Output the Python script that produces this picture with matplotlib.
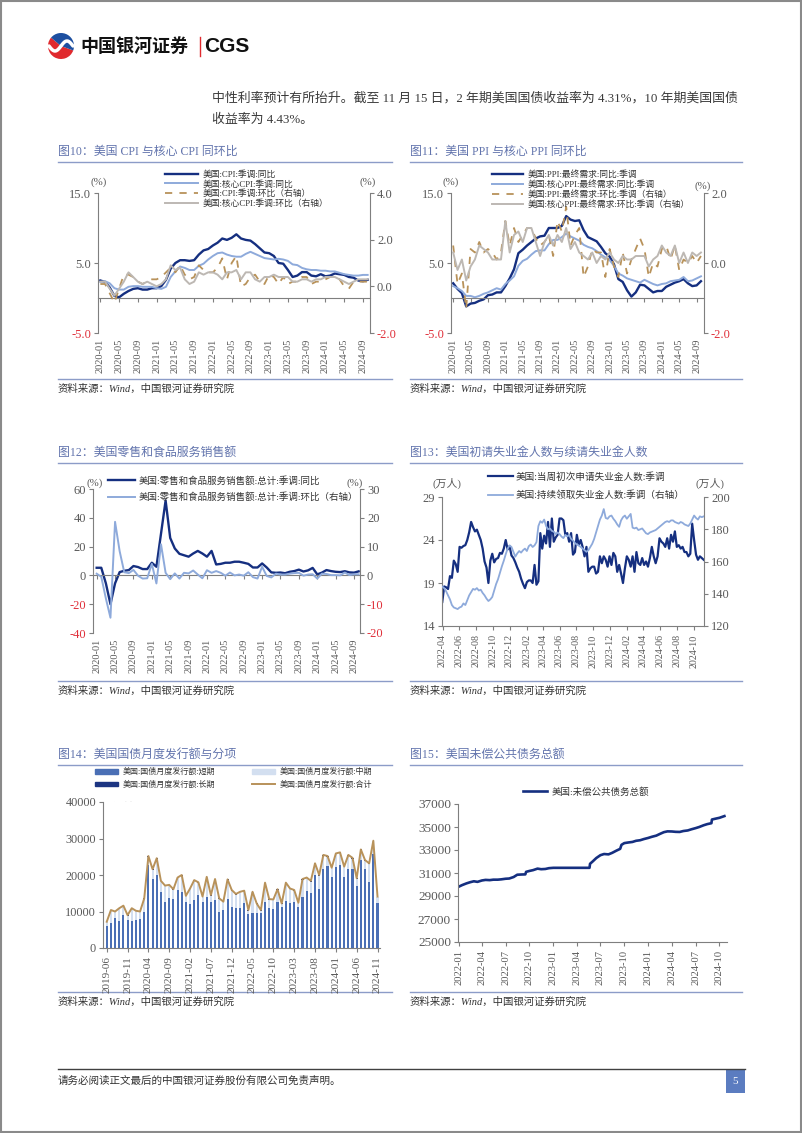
import numpy as np
import pandas as pd
import matplotlib
matplotlib.use('Agg')
import matplotlib.pyplot as plt
import matplotlib.dates as mdates
from matplotlib.patches import Patch, Rectangle, Wedge

plt.rcParams['font.family'] = ['Liberation Serif', 'Noto Sans CJK SC']
plt.rcParams['axes.unicode_minus'] = False

# ---------------- data ----------------
# 图10 CPI (2020-01 .. 2024-10)
cpi_yoy = [2.5, 2.3, 1.5, 0.3, 0.1, 0.6, 1.0, 1.3, 1.4, 1.2, 1.2, 1.4,
           1.4, 1.7, 2.6, 4.2, 5.0, 5.4, 5.4, 5.3, 5.4, 6.2, 6.8, 7.0,
           7.5, 7.9, 8.5, 8.3, 8.6, 9.1, 8.5, 8.3, 8.2, 7.7, 7.1, 6.5,
           6.4, 6.0, 5.0, 4.9, 4.0, 3.0, 3.2, 3.7, 3.7, 3.2, 3.1, 3.4,
           3.1, 3.2, 3.5, 3.4, 3.3, 3.0, 2.9, 2.5, 2.4, 2.6]
core_cpi_yoy = [2.3, 2.4, 2.1, 1.4, 1.2, 1.2, 1.6, 1.7, 1.7, 1.6, 1.6, 1.6,
                1.4, 1.3, 1.6, 3.0, 3.8, 4.5, 4.3, 4.0, 4.0, 4.6, 4.9, 5.5,
                6.0, 6.4, 6.5, 6.2, 6.0, 5.9, 5.9, 6.3, 6.6, 6.3, 6.0, 5.7,
                5.6, 5.5, 5.6, 5.5, 5.3, 4.8, 4.7, 4.3, 4.1, 4.0, 4.0, 3.9,
                3.9, 3.8, 3.8, 3.6, 3.4, 3.3, 3.2, 3.2, 3.3, 3.3]
cpi_mom = [0.1, 0.1, -0.3, -0.7, -0.1, 0.5, 0.5, 0.4, 0.2, 0.1, 0.2, 0.3,
           0.3, 0.4, 0.6, 0.8, 0.6, 0.9, 0.5, 0.3, 0.4, 0.9, 0.7, 0.6,
           0.6, 0.8, 1.2, 0.3, 1.0, 1.3, 0.0, 0.1, 0.4, 0.5, 0.2, 0.1,
           0.5, 0.4, 0.1, 0.4, 0.1, 0.2, 0.2, 0.4, 0.4, 0.1, 0.2, 0.2,
           0.3, 0.4, 0.4, 0.3, 0.0, -0.1, 0.2, 0.2, 0.2, 0.2]
core_cpi_mom = [0.2, 0.2, -0.1, -0.4, -0.1, 0.2, 0.6, 0.4, 0.2, 0.1, 0.2, 0.1,
                0.0, 0.1, 0.3, 0.9, 0.7, 0.8, 0.3, 0.1, 0.2, 0.6, 0.5, 0.6,
                0.6, 0.5, 0.3, 0.6, 0.6, 0.7, 0.3, 0.6, 0.6, 0.3, 0.2, 0.4,
                0.4, 0.5, 0.4, 0.4, 0.4, 0.2, 0.2, 0.3, 0.3, 0.2, 0.3, 0.3,
                0.4, 0.4, 0.4, 0.3, 0.2, 0.1, 0.2, 0.3, 0.3, 0.3]

# 图11 PPI (2020-01 .. 2024-10)
ppi_yoy = [2.1, 1.3, 0.7, -1.2, -0.8, -0.7, -0.4, -0.2, 0.4, 0.5, 0.8, 0.8,
           1.7, 2.8, 4.1, 6.4, 6.9, 7.5, 8.0, 8.5, 8.8, 8.9, 10.0, 10.0,
           10.0, 10.3, 11.7, 11.2, 11.0, 11.1, 9.7, 8.7, 8.4, 8.1, 7.3, 6.4,
           5.9, 4.8, 2.7, 2.3, 1.1, 0.2, 0.8, 1.9, 1.8, 1.3, 0.8, 1.0,
           1.0, 1.6, 1.9, 2.2, 2.4, 2.7, 2.1, 1.7, 1.8, 2.4]
core_ppi_yoy = [1.7, 1.4, 1.0, 0.3, 0.3, 0.1, 0.3, 0.6, 0.8, 1.1, 1.4, 1.2,
                2.0, 2.5, 3.1, 4.6, 5.3, 5.6, 6.2, 6.7, 6.8, 6.8, 7.7, 8.3,
                8.3, 8.7, 9.2, 8.8, 8.5, 8.2, 7.6, 7.3, 7.1, 6.7, 6.2, 5.8,
                5.4, 4.6, 3.5, 3.2, 2.8, 2.6, 2.4, 2.2, 2.6, 2.3, 2.0, 1.8,
                2.0, 2.1, 2.4, 2.5, 2.6, 3.0, 2.4, 2.5, 2.8, 3.1]
ppi_mom = [0.5, -0.6, -0.3, -1.3, 0.4, 0.3, 0.6, 0.3, 0.4, 0.3, 0.1, 0.3,
           1.2, 0.5, 1.0, 0.6, 0.8, 1.0, 1.0, 0.7, 0.5, 0.6, 0.8, 0.2,
           1.2, 0.9, 1.6, 0.5, 0.8, 1.0, -0.4, -0.1, 0.4, 0.3, 0.3, -0.4,
           0.4, -0.1, -0.4, 0.3, -0.3, 0.1, 0.4, 0.7, 0.4, -0.4, 0.0, -0.1,
           0.4, 0.5, 0.1, 0.5, -0.2, 0.1, 0.0, 0.2, 0.0, 0.2]
core_ppi_mom = [0.3, -0.2, 0.1, -0.5, -0.1, 0.1, 0.5, 0.4, 0.3, 0.1, 0.1, 0.1,
                1.2, 0.3, 0.8, 0.9, 0.6, 1.0, 1.0, 0.6, 0.2, 0.6, 0.8, 0.5,
                0.8, 0.6, 1.0, 0.4, 0.6, 0.3, 0.2, 0.1, 0.3, 0.0, 0.2, 0.1,
                0.3, 0.1, 0.0, 0.2, 0.1, 0.1, 0.2, 0.2, 0.2, -0.1, 0.1, 0.2,
                0.5, 0.3, 0.2, 0.5, 0.0, 0.3, 0.0, 0.3, 0.2, 0.3]

# 图12 零售 (2020-01 .. 2024-10)
retail_yoy = [5.3, 5.3, -5.5, -20.0, -5.5, 2.3, 3.2, 3.7, 6.5, 5.8, 4.4, 4.4,
              8.8, 6.0, 29.0, 52.0, 26.0, 18.7, 15.0, 14.0, 13.0, 15.2, 17.0, 15.2,
              13.0, 17.0, 7.6, 8.0, 8.8, 8.8, 9.5, 9.5, 8.8, 8.0, 5.5, 5.5,
              8.3, 5.5, 2.1, 1.8, 2.0, 1.5, 2.5, 3.0, 4.0, 2.7, 3.5, 5.2,
              0.7, 1.9, 3.7, 3.0, 2.5, 2.3, 2.9, 2.1, 1.9, 2.8]
retail_mom = [0.6, -0.5, -8.0, -14.7, 18.6, 8.4, 1.1, 0.8, 1.9, -0.1, -1.1, -1.0,
              4.0, -2.8, 10.8, 0.9, -1.3, 0.7, -1.1, 0.9, 0.7, 1.7, 0.3, -1.0,
              1.8, 0.9, 1.5, 0.9, -0.1, 1.0, 0.0, 0.3, -0.1, 1.1, -0.6, -1.1,
              3.0, -0.2, -0.7, 0.6, 0.3, 0.3, 0.6, 0.8, 0.9, -0.1, 0.3, 0.4,
              -1.1, 0.6, 0.5, 0.1, 0.1, 0.0, 1.0, 0.1, 0.4, 0.4]

# 图13 初请/续请 (weekly, 万人)
initial_claims = [16.8, 18.6, 18.5, 18.3, 19.8, 19.6, 21.6, 21.2, 20.3, 23.2,
                  23.1, 23.3, 23.4, 24.0, 24.9, 26.1, 25.5, 25.0, 25.2, 24.6,
                  24.0, 23.0, 21.5, 20.8, 19.0, 21.6, 22.4, 21.4, 21.8, 21.9,
                  22.5, 22.4, 23.0, 24.0, 22.9, 23.3, 22.2, 21.9, 21.4, 20.8,
                  20.3, 19.5, 18.9, 18.4, 19.1, 19.3, 19.3, 19.0, 21.1, 18.8,
                  19.2, 24.8, 23.0, 24.5, 23.6, 26.1, 23.2, 26.5, 23.8, 24.3,
                  24.6, 26.5, 26.5, 26.3, 24.6, 24.8, 23.8, 24.8, 22.3, 22.6,
                  24.6, 23.4, 24.0, 23.2, 22.1, 23.2, 20.3, 20.7, 20.9, 20.9,
                  20.1, 20.3, 22.1, 21.3, 22.1, 21.7, 20.9, 22.1, 21.1, 22.5,
                  22.1, 20.3, 21.1, 20.1, 19.0, 20.7, 22.1, 21.7, 20.9, 22.1,
                  20.3, 22.6, 21.3, 21.1, 21.9, 21.1, 21.5, 20.9, 21.9, 23.2,
                  22.1, 21.3, 22.1, 24.2, 23.8, 23.6, 23.2, 24.2, 23.0, 24.6,
                  23.8, 25.0, 23.2, 23.4, 23.0, 23.2, 22.6, 22.6, 22.1, 22.4,
                  25.9, 24.0, 22.3, 21.7, 22.1, 21.9, 21.7]
continuing_claims = [144.4, 143.5, 141.5, 139.0, 136.5, 133.0, 131.5, 131.0, 130.5, 131.5,
                     132.0, 134.0, 133.0, 136.0, 139.0, 141.0, 143.0, 142.5, 143.5, 142.0,
                     142.5, 140.5, 139.0, 137.0, 135.5, 136.5, 138.0, 142.0, 146.0, 149.0,
                     153.0, 157.0, 160.5, 164.5, 168.0, 170.0, 169.0, 166.0, 163.0, 165.0,
                     166.5, 165.5, 167.0, 168.0, 166.5, 169.5, 170.5, 169.0, 170.0, 172.0,
                     182.0, 185.0, 184.0, 186.0, 182.0, 180.0, 180.5, 179.0, 178.5, 177.0,
                     178.0, 177.0, 175.5, 174.5, 176.5, 175.5, 176.5, 174.0, 173.0, 171.5,
                     170.5, 170.0, 169.0, 168.0, 167.0, 166.0, 167.0, 169.0, 171.0, 174.0,
                     178.0, 182.0, 186.0, 188.5, 192.5, 187.0, 186.5, 188.0, 188.5, 186.5,
                     185.0, 183.0, 181.5, 185.5, 187.5, 188.5, 186.5, 188.0, 189.5, 181.0,
                     180.5, 181.0, 179.5, 180.0, 180.5, 179.0, 177.5, 177.0, 178.0, 178.5,
                     179.0, 179.5, 180.5, 181.5, 182.5, 183.5, 184.5, 185.0, 184.5, 185.5,
                     185.5, 184.5, 184.0, 183.5, 184.5, 184.0, 183.0, 182.5, 182.0, 183.5,
                     186.0, 188.5, 187.0, 186.0, 188.0, 187.5, 188.0]

# 图14 国债月度发行 (2019-06 .. 2024-11, 亿美元)
issue_short = [6100, 6800, 8100, 7400, 9000, 7700, 7400, 7700, 7900, 9800,
               22700, 18900, 20000, 15400, 12700, 13800, 13400, 15900, 15400, 12700,
               12000, 13100, 14500, 12700, 14000, 12500, 13200, 10000, 10400, 13500,
               11300, 10900, 10900, 12200, 9200, 9500, 9500, 9500, 12500, 10900,
               10700, 12700, 11100, 12900, 12200, 12700, 11100, 14100, 15600, 15000,
               20000, 16200, 21600, 22600, 19500, 22100, 22700, 19500, 21600, 21600,
               17100, 24100, 21600, 18000, 25700, 12200]
issue_mid = [950, 3450, 1750, 3350, 2450, 1150, 3350, 2350, 1950, 3650,
             2350, 2550, 4450, 2850, 4250, 3350, 2550, 3250, 4450, 1450,
             4150, 5350, 3350, 1250, 5350, 1850, 5550, 3450, 2150, 5150,
             4450, 3750, 4350, 3350, 1050, 5750, 2550, 750, 5250, 2350,
             2450, 3250, 950, 4850, 3950, 3050, 1150, 4650, 3550, 3200,
             3000, 3600, 3700, 2400, 2300, 3600, 3300, 2600, 3700, 2900,
             1800, 2700, 2300, 5000, 3500, 1700]
issue_long = [150, 150, 150, 150, 150, 150, 150, 150, 150, 150,
              150, 150, 150, 150, 150, 150, 150, 150, 150, 150,
              150, 150, 150, 150, 150, 150, 150, 150, 150, 150,
              150, 150, 150, 150, 150, 150, 150, 150, 150, 150,
              150, 150, 150, 150, 150, 150, 150, 150, 150, 200,
              200, 200, 200, 200, 200, 200, 200, 200, 200, 200,
              200, 200, 200, 200, 200, 200]
issue_total = [7200, 10400, 10000, 10900, 11600, 9000, 10900, 10200, 10000, 13600,
               25200, 21600, 24600, 18400, 17100, 17300, 16100, 19300, 20000, 14300,
               16300, 18600, 18000, 14100, 19500, 14500, 18900, 13600, 12700, 18800,
               15900, 14800, 15400, 15700, 10400, 15400, 12200, 10400, 17900, 13400,
               13300, 16100, 12200, 17900, 16300, 15900, 12400, 18900, 19300, 18400,
               23200, 20000, 25500, 25200, 22000, 25900, 26200, 22300, 25500, 24700,
               19100, 27000, 24100, 23200, 29400, 14100]

# 图15 未偿公共债务总额 (十亿美元)
debt_dates = ['2022-01-01', '2022-01-15', '2022-02-01', '2022-02-15', '2022-03-01',
              '2022-03-15', '2022-04-01', '2022-04-15', '2022-05-01', '2022-05-15',
              '2022-06-01', '2022-06-15', '2022-07-01', '2022-07-15', '2022-08-01',
              '2022-08-15', '2022-09-01', '2022-09-15', '2022-09-18', '2022-10-01',
              '2022-10-15', '2022-11-01', '2022-11-15', '2022-12-01', '2022-12-15',
              '2023-01-01', '2023-05-20', '2023-05-22', '2023-06-01', '2023-06-15',
              '2023-07-01', '2023-07-15', '2023-08-01', '2023-08-15', '2023-09-01',
              '2023-09-15', '2023-09-20', '2023-10-01', '2023-10-15', '2023-11-01',
              '2023-11-15', '2023-12-01', '2023-12-15', '2024-01-01', '2024-01-15',
              '2024-02-01', '2024-02-15', '2024-03-01', '2024-03-15', '2024-04-01',
              '2024-04-15', '2024-05-01', '2024-05-15', '2024-06-01', '2024-06-15',
              '2024-07-01', '2024-07-15', '2024-08-01', '2024-08-15', '2024-08-31',
              '2024-09-02', '2024-09-15', '2024-10-01', '2024-10-20']
debt_total = [29800, 29950, 30100, 30200, 30280, 30230, 30350, 30400, 30380, 30420,
              30420, 30450, 30500, 30520, 30650, 30850, 30870, 30880, 31100, 31180,
              31250, 31380, 31330, 31350, 31420, 31450, 31450, 31800, 32000, 32300,
              32550, 32650, 32620, 32750, 32950, 33100, 33450, 33600, 33650, 33700,
              33800, 33850, 33950, 34050, 34150, 34250, 34400, 34550, 34620, 34610,
              34580, 34570, 34650, 34700, 34800, 34900, 35000, 35150, 35250, 35330,
              35650, 35720, 35800, 35950]

# ---------------- style ----------------
NAVY = '#152f80'
LBLUE = '#8eaadb'
TAN = '#b8925a'
GRAY = '#bdb8b3'
SHORT_C = '#4a6fb5'
MID_C = '#d3dff0'
LONG_C = '#1c3582'
SPINE_C = '#7f7f7f'
TICK_C = '#595959'
RED = '#e0303a'
TITLE_C = '#6274ad'
RULE_C = '#8c9cc8'
TXT_C = '#333333'

W, H = 802, 1133
fig = plt.figure(figsize=(W / 100, H / 100), dpi=100)


def box(l, t, r, b):
    return [l / W, 1 - b / H, (r - l) / W, (b - t) / H]


pg = fig.add_axes([0, 0, 1, 1], zorder=-1)
pg.set_xlim(0, W)
pg.set_ylim(H, 0)
pg.axis('off')

# page frame, header, footer
pg.add_patch(Rectangle((0.8, 0.8), W - 1.6, H - 1.6, fill=False, ec='#8a8a8a', lw=1.5))
pg.add_patch(Wedge((61, 46), 13, 20, 220, fc='#e02a2e', ec='none'))
pg.add_patch(Wedge((61, 46), 13, 220, 20, fc='#1d4fa0', ec='none'))
tt = np.linspace(-1, 1, 30)
pg.plot(61 + 12 * tt, 46 - 5 * np.sin(np.pi * tt), color='white', lw=2.5, solid_capstyle='round')
pg.text(80, 46, '中国银河证券', fontsize=13, fontweight='bold', family='Noto Sans CJK SC',
        va='center', color='#111111')
pg.plot([199.5, 199.5], [37, 56], color='#e02a2e', lw=1)
pg.text(204, 46.5, 'CGS', fontsize=15, fontweight='bold', family='Liberation Sans',
        va='center', color='#111111')
pg.text(212, 98, '中性利率预计有所抬升。截至 11 月 15 日，2 年期美国国债收益率为 4.31%，10 年期美国国债',
        fontsize=9.3, color='#3a3a3a', va='center')
pg.text(212, 120, '收益率为 4.43%。', fontsize=9.3, color='#3a3a3a', va='center')

pg.plot([58, 745], [1069, 1069], color='#404040', lw=1)
pg.text(58, 1081, '请务必阅读正文最后的中国银河证券股份有限公司免责声明。', fontsize=7.6,
        color=TXT_C, va='center')
pg.add_patch(Rectangle((726, 1069), 19, 24, fc='#5b7cc0', ec='none'))
pg.text(735.5, 1081, '5', fontsize=8, color='white', ha='center', va='center')


def panel(x0, x1, y_title, y_rule, y_src, title):
    pg.text(x0, y_title, title, fontsize=8.6, color=TITLE_C, va='center')
    pg.plot([x0, x1], [y_rule, y_rule], color=RULE_C, lw=1)
    pg.plot([x0, x1], [y_src, y_src], color=RULE_C, lw=1)
    pg.text(x0, y_src + 10, '资料来源：Wind，中国银河证券研究院', fontsize=7.5,
            style='italic', color=TXT_C, va='center')


panel(58, 392, 152, 162, 379, '图10：美国 CPI 与核心 CPI 同环比')
panel(410, 742, 152, 162, 379, '图11：美国 PPI 与核心 PPI 同环比')
panel(58, 392, 453, 463, 681, '图12：美国零售和食品服务销售额')
panel(410, 742, 453, 463, 681, '图13：美国初请失业金人数与续请失业金人数')
panel(58, 392, 755, 765, 992, '图14：美国国债月度发行额与分项')
panel(410, 742, 755, 765, 992, '图15：美国未偿公共债务总额')


def spines(a, show):
    for k, s in a.spines.items():
        s.set_visible(k in show)
        s.set_color(SPINE_C)
        s.set_linewidth(0.8)


def yticks(a, side, ticks, fmt, size=9):
    a.set_yticks(ticks, [fmt.format(t) for t in ticks])
    a.tick_params(axis='y', direction='out', length=3, width=0.8, color=SPINE_C,
                  labelsize=size, labelcolor=TICK_C, pad=2,
                  left=(side == 'left'), right=(side == 'right'),
                  labelleft=(side == 'left'), labelright=(side == 'right'))
    for t, lab in zip(ticks, a.get_yticklabels()):
        if t < 0:
            lab.set_color(RED)


def zero_xaxis(ax, ticks, labels, size=7.5):
    ax.spines['bottom'].set_position(('data', 0))
    ax.set_xticks(ticks)
    ax.tick_params(axis='x', direction='out', length=3, width=0.8, color=SPINE_C,
                   labelbottom=False)
    sx = ax.secondary_xaxis('bottom')
    sx.set_xticks(ticks, labels)
    sx.tick_params(axis='x', length=0, pad=4, labelsize=size, labelcolor=TICK_C,
                   rotation=90)
    sx.spines['bottom'].set_visible(False)


def leg(handles, labels, x, y, fs, **kw):
    fig.legend(handles, labels, loc='upper left', bbox_to_anchor=(x / W, 1 - y / H),
               frameon=False, borderpad=0, borderaxespad=0, fontsize=fs,
               labelcolor=TXT_C, **kw)


def unit(x, y, s, ha='center', size=7.8):
    pg.text(x, y, s, fontsize=size, color=TICK_C, ha=ha, va='center')


months20 = [p.strftime('%Y-%m') for p in pd.period_range('2020-01', periods=len(cpi_yoy), freq='M')]
tick_idx = list(range(0, len(months20), 4))

# ---------------- 图10 ----------------
ax = fig.add_axes(box(98, 193, 370, 333))
x = np.arange(len(cpi_yoy))
l1, = ax.plot(x, cpi_yoy, color=NAVY, lw=1.7)
l2, = ax.plot(x, core_cpi_yoy, color=LBLUE, lw=1.4)
ax.set_ylim(-5, 15)
ax.set_xlim(-0.5, len(x) - 0.5)
axr = ax.twinx()
l3, = axr.plot(x, cpi_mom, color=TAN, lw=1.3, ls=(0, (4, 4)))
l4, = axr.plot(x, core_cpi_mom, color=GRAY, lw=1.4)
axr.set_ylim(-2, 4)
spines(ax, ['left', 'bottom'])
spines(axr, ['right'])
yticks(ax, 'left', [-5, 5, 15], '{:.1f}')
yticks(axr, 'right', [-2, 0, 2, 4], '{:.1f}')
zero_xaxis(ax, tick_idx, [months20[i] for i in tick_idx])
leg([l1, l2, l3, l4], ['美国:CPI:季调:同比', '美国:核心CPI:季调:同比',
                       '美国:CPI:季调:环比（右轴）', '美国:核心CPI:季调:环比（右轴）'],
    165, 170, 6.3, handlelength=3.8, handletextpad=0.55, labelspacing=0.15)
unit(99, 182, '(%)')
unit(368, 182, '(%)')

# ---------------- 图11 ----------------
ax = fig.add_axes(box(451, 193, 704, 333))
x = np.arange(len(ppi_yoy))
l1, = ax.plot(x, ppi_yoy, color=NAVY, lw=1.7)
l2, = ax.plot(x, core_ppi_yoy, color=LBLUE, lw=1.4)
ax.set_ylim(-5, 15)
ax.set_xlim(-0.5, len(x) - 0.3)
axr = ax.twinx()
l3, = axr.plot(x, ppi_mom, color=TAN, lw=1.3, ls=(0, (4, 4)))
l4, = axr.plot(x, core_ppi_mom, color=GRAY, lw=1.4)
axr.set_ylim(-2, 2)
spines(ax, ['left', 'bottom'])
spines(axr, ['right'])
yticks(ax, 'left', [-5, 5, 15], '{:.1f}')
yticks(axr, 'right', [-2, 0, 2], '{:.1f}')
zero_xaxis(ax, tick_idx, [months20[i] for i in tick_idx])
leg([l1, l2, l3, l4], ['美国:PPI:最终需求:同比:季调', '美国:核心PPI:最终需求:同比:季调',
                       '美国:PPI:最终需求:环比:季调（右轴）', '美国:核心PPI:最终需求:环比:季调（右轴）'],
    492, 170, 6.3, handlelength=3.5, handletextpad=0.55, labelspacing=0.15)
unit(451, 182, '(%)')
unit(703, 186, '(%)')

# ---------------- 图12 ----------------
ax = fig.add_axes(box(93, 489, 360, 633))
x = np.arange(len(retail_yoy))
l1, = ax.plot(x, retail_yoy, color=NAVY, lw=1.7)
ax.set_ylim(-40, 60)
ax.set_xlim(-0.8, len(x) - 0.7)
axr = ax.twinx()
l2, = axr.plot(x, retail_mom, color=LBLUE, lw=1.4)
axr.set_ylim(-20, 30)
spines(ax, ['left', 'bottom'])
spines(axr, ['right'])
yticks(ax, 'left', [-40, -20, 0, 20, 40, 60], '{:d}')
yticks(axr, 'right', [-20, -10, 0, 10, 20, 30], '{:d}')
zero_xaxis(ax, tick_idx, [months20[i] for i in tick_idx])
leg([l1, l2], ['美国:零售和食品服务销售额:总计:季调:同比', '美国:零售和食品服务销售额:总计:季调:环比（右轴）'],
    108, 476, 6.8, handlelength=2.9, handletextpad=0.3, labelspacing=0.7)
unit(95, 483, '(%)')
unit(355, 483, '(%)')

# ---------------- 图13 ----------------
ax = fig.add_axes(box(442, 497, 704, 626))
wk = pd.date_range('2022-03-31', periods=len(initial_claims), freq='7D')
l1, = ax.plot(wk, initial_claims, color=NAVY, lw=1.6)
ax.set_ylim(14, 29)
ax.set_xlim(pd.Timestamp('2022-03-30'), pd.Timestamp('2024-11-08'))
axr = ax.twinx()
l2, = axr.plot(wk, continuing_claims, color=LBLUE, lw=1.3)
axr.set_ylim(120, 200)
spines(ax, ['left', 'bottom'])
spines(axr, ['right'])
yticks(ax, 'left', [14, 19, 24, 29], '{:d}')
yticks(axr, 'right', [120, 140, 160, 180, 200], '{:d}')
ax.xaxis.set_major_locator(mdates.MonthLocator(bymonth=[2, 4, 6, 8, 10, 12]))
ax.xaxis.set_major_formatter(mdates.DateFormatter('%Y-%m'))
ax.tick_params(axis='x', direction='out', length=3, width=0.8, color=SPINE_C,
               labelsize=7.2, labelcolor=TICK_C, rotation=90, pad=3)
leg([l1, l2], ['美国:当周初次申请失业金人数:季调', '美国:持续领取失业金人数:季调（右轴）'],
    488, 472, 6.9, handlelength=2.6, handletextpad=0.3, labelspacing=0.9)
unit(447, 483, '(万人)')
unit(710, 483, '(万人)')

# ---------------- 图14 ----------------
ax = fig.add_axes(box(103, 802, 380, 948))
x = np.arange(len(issue_short))
s1 = np.array(issue_short)
s2 = np.array(issue_mid)
ax.bar(x, issue_short, width=0.5, color=SHORT_C)
ax.bar(x, issue_mid, width=0.5, bottom=s1, color=MID_C)
ax.bar(x, issue_long, width=0.5, bottom=s1 + s2, color=LONG_C)
lt, = ax.plot(x, issue_total, color=TAN, lw=1.4)
ax.set_ylim(0, 40000)
ax.set_xlim(-0.9, len(x) - 0.4)
spines(ax, ['left', 'bottom'])
yticks(ax, 'left', [0, 10000, 20000, 30000, 40000], '{:d}', size=8.8)
months19 = [p.strftime('%Y-%m') for p in pd.period_range('2019-06', periods=len(x), freq='M')]
t14 = list(range(0, len(x), 5))
ax.set_xticks(t14, [months19[i] for i in t14])
ax.tick_params(axis='x', direction='out', length=3, width=0.8, color=SPINE_C,
               labelsize=8, labelcolor=TICK_C, rotation=90, pad=3)
leg([Patch(color=SHORT_C), Patch(color=LONG_C), Patch(color=MID_C), lt],
    ['美国:国债月度发行额:短期', '美国:国债月度发行额:长期', '美国:国债月度发行额:中期', '美国:国债月度发行额:合计'],
    95, 768, 5.8, ncol=2, handlelength=2.9, handleheight=0.5, handletextpad=0.5,
    labelspacing=0.55, columnspacing=4.6)
unit(108, 808, '(亿美元)', ha='left', size=8.5)

# ---------------- 图15 ----------------
ax = fig.add_axes(box(458, 804, 727, 942))
dd = pd.to_datetime(debt_dates)
l1, = ax.plot(dd, debt_total, color=NAVY, lw=1.9)
ax.set_ylim(25000, 37000)
ax.set_xlim(pd.Timestamp('2021-12-30'), pd.Timestamp('2024-10-30'))
spines(ax, ['left', 'bottom'])
yticks(ax, 'left', list(range(25000, 37001, 2000)), '{:d}', size=9.5)
ax.xaxis.set_major_locator(mdates.MonthLocator(bymonth=[1, 4, 7, 10]))
ax.xaxis.set_major_formatter(mdates.DateFormatter('%Y-%m'))
ax.tick_params(axis='x', direction='out', length=3, width=0.8, color=SPINE_C,
               labelsize=7.6, labelcolor=TICK_C, rotation=90, pad=3)
leg([l1], ['美国:未偿公共债务总额'], 523, 787, 6.8, handlelength=2.55, handletextpad=0.5)
unit(459, 812, '(十亿美元)', ha='left', size=8.5)

fig.savefig('out.png', dpi=100)
